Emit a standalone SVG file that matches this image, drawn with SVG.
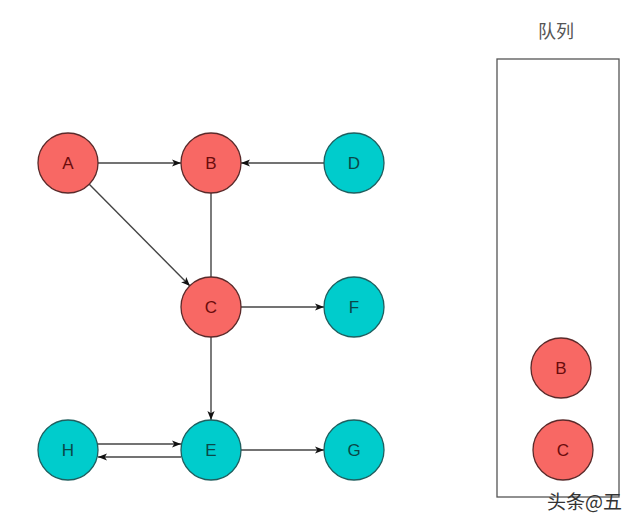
<svg xmlns="http://www.w3.org/2000/svg" width="633" height="515" viewBox="0 0 633 515">
<style>
.red{fill:#f86864;stroke:#5a2a2a;stroke-width:1.3}
.teal{fill:#00cccc;stroke:#1f5f5f;stroke-width:1.3}
.lbl{font-family:"Liberation Sans",Arial,sans-serif;font-size:17px;text-anchor:middle;dominant-baseline:central}
.rt{fill:#6a0c0c}
.tt{fill:#0a4848}
.edge{stroke:#444;stroke-width:1.4;fill:none}
.cjk{font-family:"Noto Sans CJK SC","Noto Sans",sans-serif;fill:#555}
</style>
<defs>
<marker id="arr" viewBox="0 0 10 10" refX="10" refY="5" markerWidth="9" markerHeight="9" markerUnits="userSpaceOnUse" orient="auto">
<path d="M0,1 L10,5 L0,9 L2.5,5 Z" fill="#111"/>
</marker>
</defs>
<rect width="633" height="515" fill="#fff"/>
<g id="connectors">
<line class="edge" x1="98" y1="163" x2="181" y2="163" marker-end="url(#arr)"/>
<line class="edge" x1="324" y1="163" x2="241" y2="163" marker-end="url(#arr)"/>
<line class="edge" x1="89" y1="184" x2="190" y2="286" marker-end="url(#arr)"/>
<line class="edge" x1="211" y1="193" x2="211" y2="277"/>
<line class="edge" x1="241" y1="307" x2="324" y2="307" marker-end="url(#arr)"/>
<line class="edge" x1="211" y1="337" x2="211" y2="420" marker-end="url(#arr)"/>
<line class="edge" x1="98" y1="444" x2="181" y2="444" marker-end="url(#arr)"/>
<line class="edge" x1="181" y1="457" x2="98" y2="457" marker-end="url(#arr)"/>
<line class="edge" x1="241" y1="450" x2="324" y2="450" marker-end="url(#arr)"/>
</g>
<g id="A"><circle class="red" cx="68" cy="163" r="30"/><text class="lbl rt" x="68" y="163">A</text></g>
<g id="B"><circle class="red" cx="211" cy="163" r="30"/><text class="lbl rt" x="211" y="163">B</text></g>
<g id="D"><circle class="teal" cx="354" cy="163" r="30"/><text class="lbl tt" x="354" y="163">D</text></g>
<g id="C"><circle class="red" cx="211" cy="307" r="30"/><text class="lbl rt" x="211" y="307">C</text></g>
<g id="F"><circle class="teal" cx="354" cy="307" r="30"/><text class="lbl tt" x="354" y="307">F</text></g>
<g id="H"><circle class="teal" cx="68" cy="450" r="30"/><text class="lbl tt" x="68" y="450">H</text></g>
<g id="E"><circle class="teal" cx="211" cy="450" r="30"/><text class="lbl tt" x="211" y="450">E</text></g>
<g id="G"><circle class="teal" cx="354" cy="450" r="30"/><text class="lbl tt" x="354" y="450">G</text></g>
<g id="queue">
<text class="cjk" x="556" y="38" font-size="18" text-anchor="middle">队列</text>
<rect x="497" y="59" width="122" height="438" fill="none" stroke="#555" stroke-width="1.3"/>
</g>
<g id="qB"><circle class="red" cx="561" cy="368" r="30"/><text class="lbl rt" x="561" y="368">B</text></g>
<g id="qC"><circle class="red" cx="563" cy="450" r="30"/><text class="lbl rt" x="563" y="450">C</text></g>
<text class="cjk" x="547" y="509" font-size="19" style="fill:#333">头条@五</text>
</svg>
